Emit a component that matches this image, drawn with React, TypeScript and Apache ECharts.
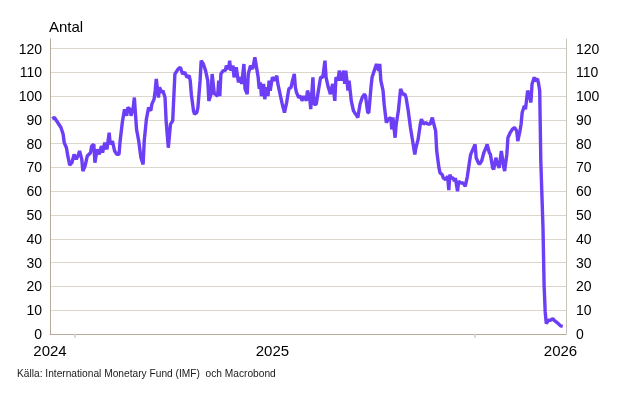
import React, { useEffect, useRef } from "react";
import * as echarts from "echarts";

// Days since 2024-12-09 and the value (Antal) on that day
const dayOffsets: number[] = [
  2, 4, 7, 10, 12, 13, 15, 16, 18, 20, 22, 24, 26, 27, 29, 30, 32, 34, 37, 38, 40, 41, 43, 45, 47, 48, 50, 52, 54, 55, 57, 59, 61, 63, 64, 66, 68, 70, 71, 73, 74, 76, 77, 79, 81, 83, 85, 86, 88, 90, 92, 93, 95, 96, 97, 99, 100, 102, 103, 105, 106, 108, 110, 112, 114, 116, 117,
  119, 121, 123, 125, 127, 128, 129, 131, 132, 134, 135, 137, 138, 140, 142, 144, 145, 147, 148, 150, 151, 153, 154, 155, 156, 158, 160, 161, 163, 164, 165, 167, 168, 170, 172, 174, 175, 177, 178, 180, 181, 183, 185, 187, 189, 190, 191, 192, 193, 195, 196, 198, 199, 200, 201, 203, 205, 207, 208, 210, 212, 214, 215, 216, 218, 220, 221, 223, 224, 225, 227, 229, 230, 232, 234, 235,
  237, 238, 240, 241, 243, 245, 247, 249, 251, 252, 254, 256, 258, 260, 261, 263, 264, 266, 268, 269, 270, 272, 273, 275, 277, 279, 281, 283, 285, 287, 288, 290, 291, 293, 294, 296, 298, 300, 301, 302, 304, 305, 307, 309, 311, 312, 313, 315, 316, 318, 320, 322, 324, 325, 327, 329, 331, 333, 334, 336, 338, 339, 341, 343, 345, 347, 349, 350,
  352, 353, 355, 356, 358, 359, 361, 363, 364, 365, 366, 368, 369, 370, 372, 373, 375, 377, 379, 381, 383, 384, 386, 388, 389, 391, 392, 394, 396, 398, 399, 401, 402, 404, 405, 407, 408, 410, 411, 412, 414, 415, 417, 418, 420, 422, 424, 426, 427, 429, 430, 431, 433, 434, 436, 438, 439, 440, 442, 443, 445, 446, 447, 448, 450, 451, 452, 453, 455, 457, 459, 460, 462, 464, 466, 468,
];

const values: number[] = [
  90.5, 91, 88.9, 86.8, 84, 80.4, 78.3, 75.5, 71, 72, 75.5, 73.4, 75.5, 76.9, 73.4, 68.5, 70.6, 74.8, 76.2, 79, 79.7, 72, 77.6, 75.5, 79, 76.2, 80.4, 77.6, 84.6, 79.7, 81.1, 76.9, 75.5, 75.5, 81.1, 88.9, 94.5, 91.7, 95.2, 94.5, 91.7, 95.2, 99.4, 86, 81.1, 74.1, 71.3, 81.1, 90.3, 95.2, 93.8, 96.6, 98.7, 102.3, 107.2, 99.4, 103.7, 101.5, 102.3, 99.4, 89.6, 78.3, 88.2, 89.6, 109.3, 110.7, 111.4,
  112.1, 109.3, 110, 107.9, 108.6, 106.5, 100.8, 93.8, 92.4, 93.1, 95.2, 106.5, 114.9, 113.5, 110.7, 106.5, 98, 100.8, 109.3, 100.9, 100.8, 100, 106.5, 100, 109.3, 110.7, 110.7, 112.8, 111.4, 114.9, 110.7, 112.8, 107.9, 112.1, 105.8, 107.9, 105.1, 113.5, 103, 100.8, 109.3, 112.8, 111.4, 116.3, 110.7, 107.9, 103, 105.8, 100, 105.1, 98.7, 103.7, 100, 106.5, 102.3, 107.9, 106.5, 108.6, 105.1, 100.8, 96.6, 93.1, 95.2, 97.3, 103, 103.7, 105.8, 109.3, 103.7, 101.5, 99.4, 100, 98, 100, 98, 102.3,
  99.4, 94.5, 107.9, 96.6, 96.6, 102.3, 107.9, 107.9, 114.9, 107.9, 103.7, 100.8, 105.1, 98, 107.9, 106.5, 110.7, 106.5, 110.7, 105.1, 110.7, 102.3, 106.5, 98, 93.8, 92.4, 91, 96.6, 99.4, 100.8, 100, 93.1, 93.1, 103.7, 107.9, 110.7, 113.5, 110.7, 113.5, 106.5, 102.3, 96.6, 88.9, 90.3, 91, 86, 91, 82.5, 88.2, 93.8, 103, 100.8, 100.8, 99.4, 93.8, 86.8, 81.1, 75.5, 78.3, 81.8, 88.2, 90.3, 88.2, 88.9, 88.2, 88.2, 91, 88.9,
  85.4, 76.9, 69.9, 67.7, 67, 65.6, 64.9, 66.3, 60.5, 67, 65.6, 65.6, 64.2, 65.6, 60, 64.2, 63.5, 63.5, 62.1, 66.3, 72.7, 75.5, 77.6, 79.7, 74.1, 72, 71.3, 72.7, 76.2, 78.3, 79.7, 76.2, 75.5, 69.9, 69.2, 74.1, 72, 69.9, 73.4, 76.9, 70.6, 68.5, 75.5, 82.5, 84.6, 86, 86.8, 85.4, 81.1, 85.4, 88.2, 93.1, 95.9, 94.5, 102.3, 99.4, 97.3, 105.1, 107.9, 106.5, 107.2, 105.1, 102.3, 72.7, 44.5, 20.6, 9.3, 4.4, 5.8, 5.8, 6.5, 5.8, 5.1, 4.4, 3.4, 3.2,
];

const yearLabelDates: string[] = ["2024-12-09", "2025-06-30", "2026-03-20"];
const yearTickDates: string[] = ["2025-01-01", "2026-01-01"];
const axisStart = "2024-12-09";
const axisEnd = "2026-03-25";

const DAY = 86400000;
const ts = (s: string) => Date.parse(s + "T00:00:00Z");
const FONT = "'Liberation Sans', Arial, Helvetica, sans-serif";

export default function App() {
  const ref = useRef<HTMLDivElement>(null);
  useEffect(() => {
    if (!ref.current) return;
    const chart = echarts.init(ref.current, undefined, { renderer: "svg" });
    const base = ts(axisStart);
    const toDay = (s: string) => Math.round((ts(s) - base) / DAY);
    const data = dayOffsets.map((d, i) => [d, values[i]]);
    chart.setOption({
      animation: false,
      textStyle: { fontFamily: FONT },
      title: [
        {
          text: "Antal",
          left: 49,
          top: 19,
          padding: 0,
          textStyle: { fontSize: 15, fontWeight: "normal", color: "#000", fontFamily: FONT },
        },
        {
          text: "Källa: International Monetary Fund (IMF)  och Macrobond",
          left: 17,
          top: 368,
          padding: 0,
          textStyle: { fontSize: 10.2, fontWeight: "normal", color: "#1a1a1a", fontFamily: FONT },
        },
      ],
      grid: { left: 50, right: 56, top: 39, bottom: 65 },
      xAxis: {
        type: "value",
        min: 0,
        max: toDay(axisEnd),
        axisLine: { show: true, lineStyle: { color: "#b7aa98", width: 1 } },
        axisTick: {
          show: true,
          customValues: yearTickDates.map(toDay),
          length: 4,
          lineStyle: { color: "#cfcfcf", width: 1.5 },
        },
        axisLabel: {
          customValues: yearLabelDates.map(toDay),
          formatter: (v: number) => String(new Date(base + v * DAY).getUTCFullYear()),
          fontSize: 15,
          color: "#000",
          margin: 9,
          fontFamily: FONT,
        },
        splitLine: { show: false },
      },
      yAxis: [
        {
          type: "value",
          position: "left",
          min: 0,
          max: 124,
          interval: 10,
          axisLine: { show: true, lineStyle: { color: "#b7aa98", width: 1 } },
          axisTick: { show: false },
          axisLabel: {
            fontSize: 14,
            color: "#000",
            margin: 8,
            showMaxLabel: false,
            fontFamily: FONT,
            formatter: (v: number) => (v % 10 === 0 ? String(v) : ""),
          },
          splitLine: { show: true, showMaxLine: false, lineStyle: { color: "#dcd6cd", width: 1 } },
        },
        {
          type: "value",
          position: "right",
          min: 0,
          max: 124,
          interval: 10,
          axisLine: { show: true, lineStyle: { color: "#c8c3bb", width: 1 } },
          axisTick: { show: false },
          axisLabel: {
            fontSize: 14,
            color: "#000",
            margin: 10,
            showMaxLabel: false,
            fontFamily: FONT,
            formatter: (v: number) => (v % 10 === 0 ? String(v) : ""),
          },
          splitLine: { show: false },
        },
      ],
      series: [
        {
          type: "line",
          data,
          yAxisIndex: 0,
          showSymbol: false,
          symbol: "none",
          lineStyle: { color: "#6c3ff6", width: 3.4 },
          itemStyle: { color: "#6c3ff6" },
        },
      ],
    });
    return () => chart.dispose();
  }, []);
  return (
    <div
      ref={ref}
      style={{ position: "fixed", left: 0, top: 0, width: 622, height: 399 }}
    />
  );
}
